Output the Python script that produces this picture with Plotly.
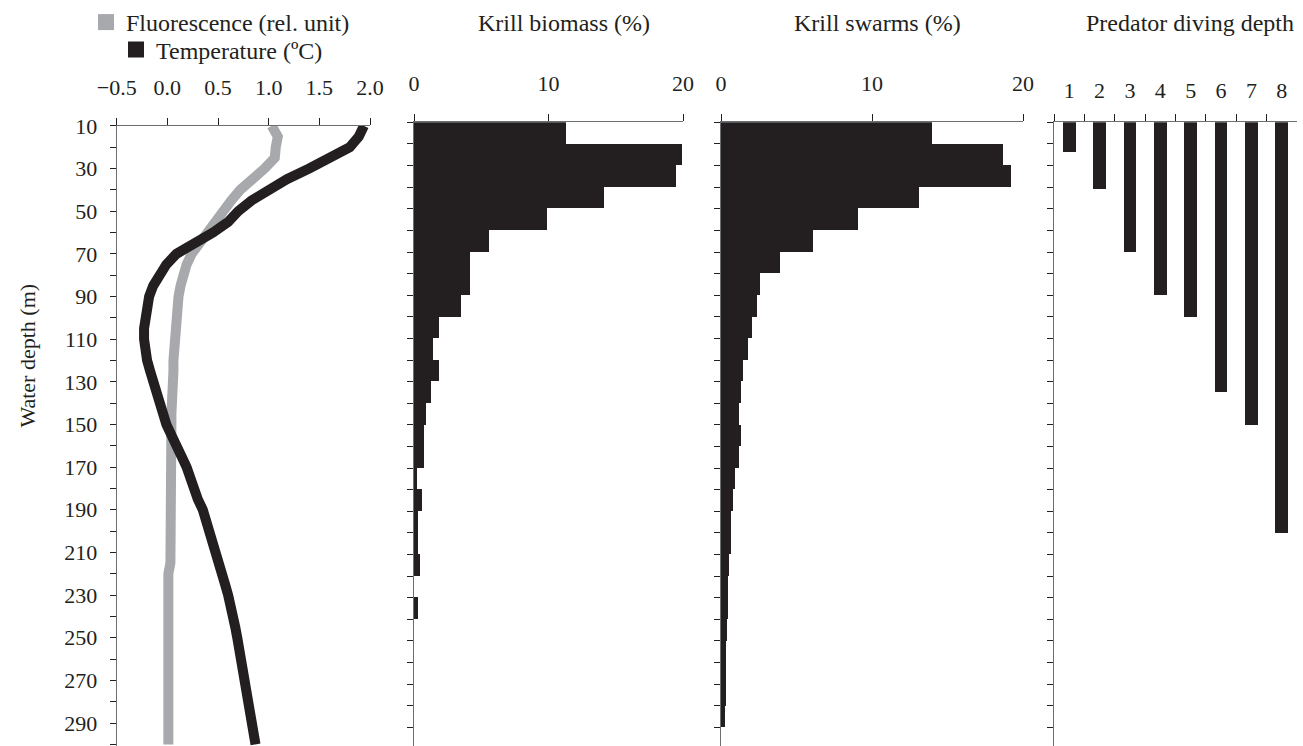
import plotly.graph_objects as go

# ---------------- data ----------------
profile_depth = [10, 15, 20, 25, 30, 35, 40, 45, 50, 55, 60, 65, 70, 75, 80, 85, 90, 95, 100,
                 105, 110, 115, 120, 125, 130, 135, 140, 145, 150, 155, 160, 165, 170, 175, 180,
                 185, 190, 195, 200, 205, 210, 215, 220, 225, 230, 235, 240, 245, 250, 255, 260,
                 265, 270, 275, 280, 285, 290, 295, 300]
temperature = [1.94, 1.89, 1.80, 1.62, 1.40, 1.18, 0.98, 0.83, 0.70, 0.60, 0.45, 0.26, 0.09, -0.01,
               -0.09, -0.14, -0.18, -0.20, -0.22, -0.23, -0.23, -0.22, -0.20, -0.17, -0.14, -0.10,
               -0.07, -0.04, -0.01, 0.04, 0.10, 0.14, 0.19, 0.22, 0.25, 0.30, 0.35, 0.385, 0.42,
               0.45, 0.48, 0.52, 0.54, 0.57, 0.60, 0.63, 0.65, 0.67, 0.69, 0.71, 0.73, 0.75, 0.76,
               0.79, 0.81, 0.83, 0.85, 0.86, 0.87]
fluorescence = [1.03, 1.09, 1.07, 1.06, 0.96, 0.82, 0.72, 0.63, 0.55, 0.47, 0.38, 0.30, 0.24, 0.19,
                0.15, 0.13, 0.11, 0.10, 0.08, 0.07, 0.07, 0.06, 0.06, 0.06, 0.05, 0.05, 0.04, 0.04,
                0.04, 0.04, 0.03, 0.03, 0.03, 0.03, 0.03, 0.03, 0.03, 0.03, 0.03, 0.03, 0.03, 0.03,
                0.01, 0.01, 0.01, 0.01, 0.01, 0.01, 0.01, 0.01, 0.01, 0.01, 0.01, 0.01, 0.01, 0.01,
                0.01, 0.01, 0.01]

# 10-m depth bins (bin centres, m)
bin_depth = [15, 25, 35, 45, 55, 65, 75, 85, 95, 105, 115, 125, 135, 145, 155, 165, 175, 185,
             195, 205, 215, 225, 235, 245, 255, 265, 275, 285, 295]
krill_biomass = [11.3, 19.9, 19.5, 14.1, 9.9, 5.6, 4.2, 4.2, 3.5, 1.86, 1.44, 1.88, 1.3, 0.9,
                 0.75, 0.75, 0.25, 0.6, 0.3, 0.3, 0.45, 0, 0.32, 0, 0, 0, 0, 0, 0]
krill_swarms = [14.0, 18.7, 19.2, 13.1, 9.1, 6.1, 3.9, 2.55, 2.4, 2.05, 1.76, 1.43, 1.32, 1.2,
                1.32, 1.17, 0.9, 0.79, 0.68, 0.66, 0.55, 0.44, 0.44, 0.4, 0.31, 0.31, 0.31, 0.26, 0]

predator = ["1", "2", "3", "4", "5", "6", "7", "8"]
predator_depth = [24, 41, 70, 90, 100, 135, 150, 200]

depth_ticks = list(range(10, 301, 10))
depth_ticklabels = [str(d) if (d // 10) % 2 == 1 else "" for d in depth_ticks]

# ---------------- style ----------------
W, H = 1303, 746
FONT = "Liberation Serif"
TXT = "#231f20"
BLACK = "#231f20"
GREY = "#a7a9ac"
AXIS = "#6d6e71"
TICK = "#231f20"


def px_x(p):
    return p / W


def px_y(p):
    return 1 - p / H


fig = go.Figure()

# Profiles (panel 1)
fig.add_trace(go.Scatter(x=fluorescence, y=profile_depth, mode="lines",
                         line=dict(color=GREY, width=10), showlegend=False,
                         xaxis="x", yaxis="y"))
fig.add_trace(go.Scatter(x=temperature, y=profile_depth, mode="lines",
                         line=dict(color=BLACK, width=10), showlegend=False,
                         xaxis="x", yaxis="y"))
# legend entries
fig.add_trace(go.Scatter(x=[None], y=[None], mode="markers", name="Fluorescence (rel. unit)",
                         marker=dict(symbol="square", size=16, color=GREY),
                         xaxis="x", yaxis="y", legend="legend"))
fig.add_trace(go.Scatter(x=[None], y=[None], mode="markers", name="Temperature (ºC)",
                         marker=dict(symbol="square", size=16, color=BLACK),
                         xaxis="x", yaxis="y", legend="legend2"))

# Krill biomass (panel 2)
fig.add_trace(go.Bar(x=krill_biomass, y=bin_depth, orientation="h", width=10,
                     marker=dict(color=BLACK, line=dict(width=0)), showlegend=False,
                     xaxis="x2", yaxis="y2"))
# Krill swarms (panel 3)
fig.add_trace(go.Bar(x=krill_swarms, y=bin_depth, orientation="h", width=10,
                     marker=dict(color=BLACK, line=dict(width=0)), showlegend=False,
                     xaxis="x3", yaxis="y3"))
# Predator diving depth (panel 4)
fig.add_trace(go.Bar(x=predator, y=predator_depth, width=0.42,
                     marker=dict(color=BLACK, line=dict(width=0)), showlegend=False,
                     xaxis="x4", yaxis="y4"))

common_x = dict(side="top", showline=True, linecolor=AXIS, linewidth=1.2, ticks="outside",
                ticklen=7, tickwidth=1.2, tickcolor=TICK, showgrid=False, zeroline=False,
                tickfont=dict(family=FONT, size=22, color=TXT), automargin=False,
                ticklabelstandoff=14, fixedrange=True)
common_y = dict(showline=True, linecolor=AXIS, linewidth=1.2, ticks="outside", ticklen=6,
                tickwidth=1.2, tickcolor=TICK, showgrid=False, zeroline=False,
                tickvals=depth_ticks, automargin=False, fixedrange=True)

top1 = 125
top2 = 121.5
bottom_depth1 = 10 + (H - top1) / 2.136
bottom_depth2 = 10 + (H - top2) / 2.164

fig.update_layout(
    width=W, height=H,
    margin=dict(l=0, r=0, t=0, b=0),
    paper_bgcolor="white", plot_bgcolor="white",
    bargap=0,
    font=dict(family=FONT, size=22, color=TXT),
    xaxis=dict(common_x, domain=[px_x(116.7), px_x(370)], range=[-0.5, 2.0],
               tickvals=[-0.5, 0, 0.5, 1.0, 1.5, 2.0], tickformat=".1f", anchor="y"),
    yaxis=dict(common_y, domain=[0, px_y(top1)], range=[bottom_depth1, 10],
               ticktext=depth_ticklabels, ticklabelstandoff=8,
               tickfont=dict(family=FONT, size=22, color=TXT), anchor="x"),
    xaxis2=dict(common_x, domain=[px_x(414), px_x(683)], range=[0, 20],
                tickvals=[0, 10, 20], anchor="y2"),
    yaxis2=dict(common_y, domain=[0, px_y(top2)], range=[bottom_depth2, 10],
                showticklabels=False, anchor="x2"),
    xaxis3=dict(common_x, domain=[px_x(721), px_x(1023)], range=[0, 20],
                tickvals=[0, 10, 20], anchor="y3"),
    yaxis3=dict(common_y, domain=[0, px_y(top2)], range=[bottom_depth2, 10],
                showticklabels=False, anchor="x3"),
    xaxis4=dict(common_x, domain=[px_x(1054), px_x(1297)], type="category",
                tickson="boundaries", anchor="y4"),
    yaxis4=dict(common_y, domain=[0, px_y(top2)], range=[bottom_depth2, 10],
                showticklabels=False, anchor="x4"),
    legend=dict(x=px_x(86), y=px_y(22), xanchor="left", yanchor="middle",
                font=dict(family=FONT, size=24, color=TXT),
                bgcolor="rgba(0,0,0,0)", itemclick=False),
    legend2=dict(x=px_x(116), y=px_y(50), xanchor="left", yanchor="middle",
                 font=dict(family=FONT, size=24, color=TXT),
                 bgcolor="rgba(0,0,0,0)", itemclick=False),
    annotations=[
        dict(text="Krill biomass (%)", x=px_x(564), y=px_y(22), xref="paper", yref="paper",
             xanchor="center", yanchor="middle", showarrow=False,
             font=dict(family=FONT, size=24, color=TXT)),
        dict(text="Krill swarms (%)", x=px_x(877), y=px_y(22), xref="paper", yref="paper",
             xanchor="center", yanchor="middle", showarrow=False,
             font=dict(family=FONT, size=24, color=TXT)),
        dict(text="Predator diving depth", x=px_x(1296), y=px_y(22), xref="paper", yref="paper",
             xanchor="right", yanchor="middle", showarrow=False,
             font=dict(family=FONT, size=24, color=TXT)),
        dict(text="Water depth (m)", x=px_x(28), y=px_y(355), xref="paper", yref="paper",
             xanchor="center", yanchor="middle", showarrow=False, textangle=-90,
             font=dict(family=FONT, size=22, color=TXT)),
    ],
)

fig.write_html("out.html")
